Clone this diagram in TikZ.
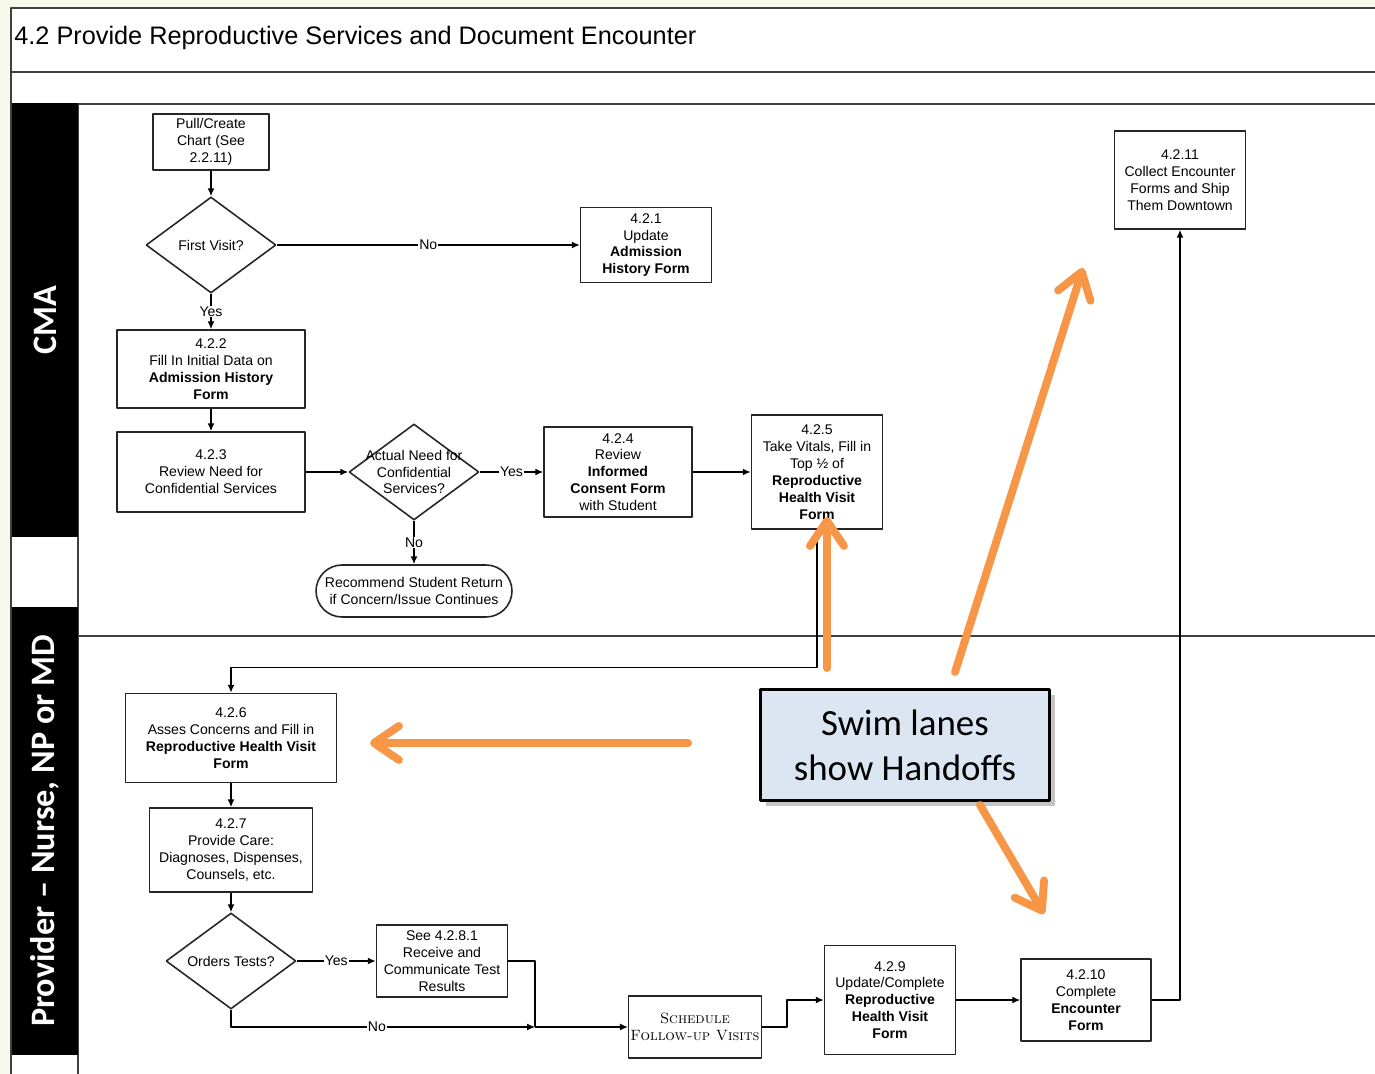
\documentclass[tikz,border=0pt]{standalone}
\usepackage{fontspec}
\newfontfamily\arialfont{Liberation Sans}
\newfontfamily\calibrifont{Carlito}
\usetikzlibrary{arrows.meta,shapes.geometric,shadows,calc}
\definecolor{pagebg}{HTML}{F7F9EA}
\definecolor{framegray}{HTML}{404040}
\definecolor{handoff}{HTML}{F79646}
\definecolor{calloutfill}{HTML}{DCE6F2}
\begin{document}
\begin{tikzpicture}[x=0.02cm,y=-0.02cm,>={Latex[length=4.5pt,width=4pt]},line join=bevel,
  step box/.style={draw=black!85,line width=0.9pt,fill=white,align=center,inner sep=1pt,font=\arialfont\fontsize{8}{9.6}\selectfont},
  decision/.style={diamond,draw=black!85,line width=0.9pt,fill=white,inner sep=0pt,minimum width=2.6cm,minimum height=1.92cm},
  dtext/.style={align=center,inner sep=0pt,font=\arialfont\fontsize{8}{9.6}\selectfont},
  flow/.style={->,line width=0.8pt},
  yesno/.style={fill=white,inner sep=0.5pt,font=\arialfont\fontsize{8}{9.6}\selectfont},
  lane head/.style={fill=black,text=white,rotate=90,inner sep=0pt,font=\calibrifont\bfseries\fontsize{19.5}{22}\selectfont},
  frame line/.style={draw=framegray,line width=1.2pt},
  handoff arrow/.style={draw=handoff,line width=4.5pt,line cap=round,-{Straight Barb[length=0.5cm,width=0.68cm,round]}},
]
%%
\fill[pagebg] (0,0) rectangle (1375,1074);
\useasboundingbox (0,0) rectangle (1375,1074);
\clip (0,0) rectangle (1375,1074);
\filldraw[fill=white,frame line] (11,8) rectangle (1400,1100);
\draw[frame line] (11,72) -- (1400,72);
\draw[frame line] (78,104) -- (1400,104);
\draw[frame line] (78,104) -- (78,1100);
\draw[frame line] (78,636) -- (1400,636);
%
\node[anchor=west,inner sep=0pt,font=\arialfont\fontsize{14.4}{16}\selectfont] (title) at (14,38) {4.2 Provide Reproductive Services and Document Encounter};
\node[lane head,minimum width=8.68cm,minimum height=1.32cm] (lane_cma) at (45,320) {CMA};
\node[lane head,minimum width=8.96cm,minimum height=1.32cm] (lane_provider) at (45,831) {Provider – Nurse, NP or MD};
%
\node[step box,minimum width=2.32cm,minimum height=1.12cm] (node_pull) at (211,142) {Pull/Create\\Chart (See\\2.2.11)};
\node[decision,label={[dtext]center:First Visit?}] (node_first) at (211,245) {};
\node[step box,minimum width=2.62cm,minimum height=1.5cm] (node_421) at (646,245) {4.2.1\\Update\\\textbf{Admission}\\\textbf{History Form}};
\node[step box,minimum width=3.76cm,minimum height=1.56cm] (node_422) at (211,369) {4.2.2\\Fill In Initial Data on\\\textbf{Admission History}\\\textbf{Form}};
\node[step box,minimum width=3.76cm,minimum height=1.6cm] (node_423) at (211,472) {4.2.3\\Review Need for\\Confidential Services};
\node[decision,label={[dtext]center:{Actual Need for\\Confidential\\Services?}}] (node_confid) at (414,472) {};
\node[step box,minimum width=2.96cm,minimum height=1.8cm] (node_424) at (618,472) {4.2.4\\Review\\\textbf{Informed}\\\textbf{Consent Form}\\with Student};
\node[step box,minimum width=2.62cm,minimum height=2.28cm] (node_425) at (817,472) {4.2.5\\Take Vitals, Fill in\\Top ½ of\\\textbf{Reproductive}\\\textbf{Health Visit}\\\textbf{Form}};
\node[step box,rounded corners=0.52cm,minimum width=3.92cm,minimum height=1.04cm] (node_return) at (414,591) {Recommend Student Return\\if Concern/Issue Continues};
\node[step box,minimum width=2.62cm,minimum height=1.96cm] (node_4211) at (1180,180) {4.2.11\\Collect Encounter\\Forms and Ship\\Them Downtown};
%
\node[step box,minimum width=4.22cm,minimum height=1.78cm] (node_426) at (231,738) {4.2.6\\Asses Concerns and Fill in\\\textbf{Reproductive Health Visit}\\\textbf{Form}};
\node[step box,minimum width=3.26cm,minimum height=1.68cm] (node_427) at (231,850) {4.2.7\\Provide Care:\\Diagnoses, Dispenses,\\Counsels, etc.};
\node[decision,label={[dtext]center:Orders Tests?}] (node_orders) at (231,961) {};
\node[step box,minimum width=2.62cm,minimum height=1.44cm] (node_4281) at (442,961) {See 4.2.8.1\\Receive and\\Communicate Test\\Results};
\node[step box,minimum width=2.6cm,minimum height=1.24cm,font=\rmfamily\scshape\fontsize{8.5}{10}\selectfont] (node_schedule) at (695,1027) {Schedule\\Follow-up Visits};
\node[step box,minimum width=2.62cm,minimum height=2.18cm] (node_429) at (890,1000) {4.2.9\\Update/Complete\\\textbf{Reproductive}\\\textbf{Health Visit}\\\textbf{Form}};
\node[step box,minimum width=2.6cm,minimum height=1.64cm] (node_4210) at (1086,1000) {4.2.10\\Complete\\\textbf{Encounter}\\\textbf{Form}};
\coordinate (join_no) at (535,1027);
%
\draw[flow] (node_pull) -- (node_first);
\draw[flow] (node_first) -- node[yesno]{No} (node_421);
\draw[flow] (node_first) -- node[yesno]{Yes} (node_422);
\draw[flow] (node_422) -- (node_423);
\draw[flow] (node_423) -- (node_confid);
\draw[flow] (node_confid) -- node[yesno]{Yes} (node_424);
\draw[flow] (node_424) -- (node_425);
\draw[flow] (node_confid) -- node[yesno]{No} (node_return);
\draw[flow] (node_425.south) |- ($(node_426.north)+(0,-25)$) -| (node_426.north);
\draw[flow] (node_426) -- (node_427);
\draw[flow] (node_427) -- (node_orders);
\draw[flow] (node_orders) -- node[yesno]{Yes} (node_4281);
\draw[flow] (node_orders.south) |- node[yesno,pos=0.74]{No} (join_no);
\draw[line width=0.8pt] (node_4281.east) -| (join_no);
\draw[flow] (join_no) -- (node_schedule.west);
\draw[flow] (node_schedule.east) -- ++(25,0) |- (node_429.west);
\draw[flow] (node_429) -- (node_4210);
\draw[flow] (node_4210.east) -| (node_4211.south);
%
\node[draw=black,line width=1.6pt,fill=calloutfill,drop shadow={opacity=0.45,shadow xshift=3pt,shadow yshift=-3pt},minimum width=5.78cm,minimum height=2.22cm,align=center,font=\calibrifont\fontsize{21}{25.5}\selectfont] (callout) at (905,745) {Swim lanes\\show Handoffs};
\coordinate (tail_a) at (827,668);
\coordinate (tip_a) at (827,517);
\coordinate (tail_b) at (955,672);
\coordinate (tip_b) at (1083,268);
\coordinate (tail_c) at (688,743);
\coordinate (tip_c) at (370,743);
\coordinate (tail_d) at (980,805);
\coordinate (tip_d) at (1044,914);
\draw[handoff arrow] (tail_a) -- (tip_a);
\draw[handoff arrow] (tail_b) -- (tip_b);
\draw[handoff arrow] (tail_c) -- (tip_c);
\draw[handoff arrow] (tail_d) -- (tip_d);
%
\end{tikzpicture}
\end{document}
